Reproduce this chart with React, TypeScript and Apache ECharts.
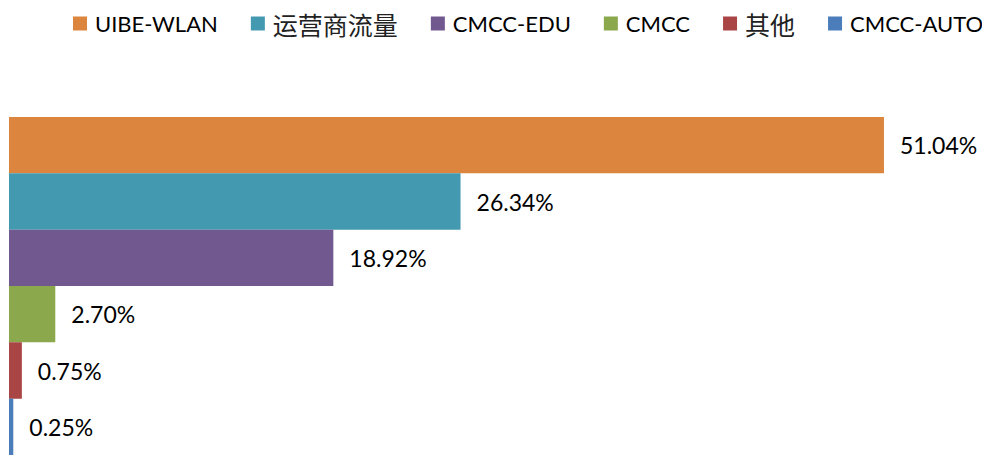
import React, { useEffect, useRef } from "react";
import * as echarts from "echarts";

const categories = ["UIBE-WLAN", "运营商流量", "CMCC-EDU", "CMCC", "其他", "CMCC-AUTO"];
const values = [51.04, 26.34, 18.92, 2.7, 0.75, 0.25];
const colors = ["#DC853F", "#4299B0", "#71588F", "#8BA84C", "#A94544", "#4A7DBA"];

const FONT = "Lato, 'Noto Sans CJK SC', sans-serif";

export default function App() {
  const ref = useRef<HTMLDivElement>(null);
  useEffect(() => {
    if (!ref.current) return;
    const chart = echarts.init(ref.current, undefined, { renderer: "svg" });
    const series = categories.map((name, i) => ({
      name,
      type: "bar",
      stack: "total",
      barCategoryGap: "0%",
      itemStyle: { color: colors[i] },
      label: {
        show: true,
        position: "right",
        distance: 16,
        color: "#000",
        fontSize: 23,
        fontFamily: FONT,
        formatter: (p: any) => p.value.toFixed(2) + "%",
      },
      data: categories.map((_, j) => (j === i ? values[i] : "-")),
    }));
    chart.setOption({
      animation: false,
      legend: {
        top: 6,
        left: 68,
        itemWidth: 14,
        itemHeight: 14,
        itemGap: 33,
        icon: "rect",
        formatter: (name: string) =>
          /[\u4e00-\u9fff]/.test(name) ? `{cn|${name}}` : `{en|${name}}`,
        textStyle: {
          fontSize: 22,
          fontFamily: FONT,
          color: "#000",
          rich: {
            en: { fontSize: 22, fontFamily: FONT, color: "#000", padding: [0, 0, 0, 3] },
            cn: {
              fontSize: 25,
              fontFamily: "'Noto Sans CJK SC', sans-serif",
              color: "#222",
              padding: [0, 0, 0, 3],
            },
          },
        },
        data: categories,
      },
      grid: { left: 9, right: 21, top: 117, bottom: 8, containLabel: false },
      xAxis: { type: "value", min: 0, max: 56, show: false },
      yAxis: {
        type: "category",
        data: categories,
        inverse: true,
        show: false,
      },
      series,
    });
    return () => chart.dispose();
  }, []);
  return <div ref={ref} style={{ width: 990, height: 463, margin: -8 }} />;
}
